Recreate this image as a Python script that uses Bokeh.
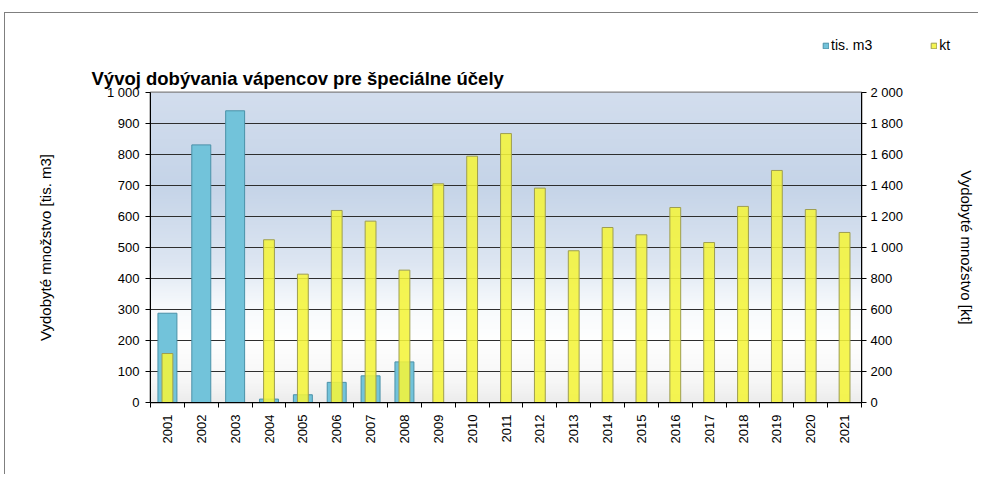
import numpy as np
from bokeh.plotting import figure
from bokeh.layouts import column
from bokeh.models import (Range1d, LinearAxis, FixedTicker, Legend, LegendItem,
                          ColumnDataSource, CustomJSTickFormatter, Styles)
from bokeh.embed import file_html
from bokeh.resources import INLINE

# ---- data ----
years = ["2001", "2002", "2003", "2004", "2005", "2006", "2007", "2008", "2009", "2010",
         "2011", "2012", "2013", "2014", "2015", "2016", "2017", "2018", "2019", "2020", "2021"]
tis_m3 = [288, 831, 941, 11, 25, 65, 86, 131, 0, 0,
          0, 0, 0, 0, 0, 0, 0, 0, 0, 0, 0]
kt = [316, 0, 0, 1050, 828, 1239, 1170, 854, 1411, 1589,
      1735, 1383, 979, 1129, 1082, 1258, 1032, 1265, 1497, 1245, 1097]
left_ticks = [0, 100, 200, 300, 400, 500, 600, 700, 800, 900, 1000]
right_ticks = [0, 200, 400, 600, 800, 1000, 1200, 1400, 1600, 1800, 2000]

title_text = "Vývoj dobývania vápencov pre špeciálne účely"
left_label = "Vydobyté množstvo [tis. m3]"
right_label = "Vydobyté množstvo [kt]"
series_names = ["tis. m3", "kt"]

FONT = "Liberation Sans"
BLUE, BLUE_EDGE = "#72c3da", "#4a91a8"
YELLOW, YELLOW_EDGE = "#f4f43a", "#9e9e50"
n = len(years)
idx = list(range(n))

p = figure(frame_width=711, frame_height=310,
           min_border_left=150, min_border_right=114, min_border_top=36, min_border_bottom=72,
           x_range=Range1d(-0.5, n - 0.5), y_range=Range1d(left_ticks[0], left_ticks[-1]),
           output_backend="svg", toolbar_location=None,
           background_fill_color="white", border_fill_color=None)
p.extra_y_ranges = {"kt": Range1d(right_ticks[0], right_ticks[-1])}
p.outline_line_color = "#808080"
p.outline_line_width = 2

# ---- background gradient of the plot area ----
H = 300
stops_y = [0, 60, 200, 320, 450, 700, 1000]
stops_c = [(236, 236, 236), (246, 246, 246), (255, 255, 255), (246, 249, 252),
           (221, 230, 242), (197, 212, 232), (211, 222, 238)]
ys = np.linspace(0, 1000, H)
img = np.empty((H, 1), dtype=np.uint32)
view = img.view(dtype=np.uint8).reshape((H, 1, 4))
for ch in range(3):
    view[:, 0, ch] = np.interp(ys, stops_y, [c[ch] for c in stops_c]).astype(np.uint8)
view[:, 0, 3] = 255
p.image_rgba(image=[img], x=-0.5, y=0, dw=n, dh=1000, level="image")

# ---- grid ----
p.xgrid.visible = False
p.ygrid.ticker = FixedTicker(ticks=left_ticks)
p.ygrid.grid_line_color = "#2e2e2e"
p.ygrid.grid_line_width = 1

# ---- bars ----
src_b = ColumnDataSource(dict(x=[i for i in idx if tis_m3[i] > 0],
                              top=[v for v in tis_m3 if v > 0]))
src_y = ColumnDataSource(dict(x=[i for i in idx if kt[i] > 0],
                              top=[v for v in kt if v > 0]))
p.vbar(x="x", top="top", bottom=0, width=0.56, source=src_b,
       fill_color=BLUE, line_color=BLUE_EDGE, line_width=1)
p.vbar(x="x", top="top", bottom=0, width=0.32, source=src_y, y_range_name="kt",
       fill_color=YELLOW, fill_alpha=0.88, line_color=YELLOW_EDGE, line_width=1)

# ---- axes ----
fmt = CustomJSTickFormatter(code=r"return Math.round(tick).toString().replace(/\B(?=(\d{3})+(?!\d))/g, ' ');")

def style_y(ax):
    ax.axis_line_color = "black"
    ax.major_tick_line_color = "black"
    ax.major_tick_in = 0
    ax.major_tick_out = 5
    ax.minor_tick_line_color = None
    ax.major_label_text_font = FONT
    ax.major_label_text_font_size = "13px"
    ax.major_label_text_color = "black"
    ax.axis_label_text_font = FONT
    ax.axis_label_text_font_size = "15px"
    ax.axis_label_text_font_style = "normal"
    ax.axis_label_text_color = "black"

ly = p.yaxis[0]
ly.ticker = FixedTicker(ticks=left_ticks)
ly.formatter = fmt
ly.axis_label = left_label
style_y(ly)
ly.major_label_standoff = 6
ly.axis_label_standoff = 50

ry = LinearAxis(y_range_name="kt", ticker=FixedTicker(ticks=right_ticks), formatter=fmt,
                axis_label=right_label)
style_y(ry)
ry.major_label_standoff = 4
ry.axis_label_standoff = 52
p.add_layout(ry, "right")

xa = p.xaxis[0]
xa.ticker = FixedTicker(ticks=idx, minor_ticks=[i - 0.5 for i in range(n + 1)])
xa.formatter = CustomJSTickFormatter(args=dict(labels=years),
                                     code="return labels[Math.round(tick)] || '';")
xa.major_label_orientation = np.pi / 2
xa.major_tick_line_color = None
xa.minor_tick_line_color = "black"
xa.minor_tick_in = 0
xa.minor_tick_out = 5
xa.axis_line_color = "black"
xa.major_label_text_font = FONT
xa.major_label_text_font_size = "13px"
xa.major_label_text_color = "black"
xa.major_label_standoff = 6

# ---- title ----
p.title.text = title_text
p.title.align = "left"
p.title.offset = -59
p.title.standoff = 8
p.title.text_font = FONT
p.title.text_font_size = "18.5px"
p.title.text_font_style = "bold"
p.title.text_color = "black"

# ---- legend strip (sits above the title, as in the reference) ----
lf = figure(frame_width=975, frame_height=56, min_border=0,
            x_range=Range1d(0, 1), y_range=Range1d(0, 1),
            x_axis_type=None, y_axis_type=None,
            output_backend="svg", toolbar_location=None,
            background_fill_color=None, border_fill_color=None)
lf.outline_line_color = None
lf.grid.visible = False
# swatch renderers: one bar each, placed outside the visible range (only the legend shows)
lb = lf.vbar(x=[5], top=[1], width=0.5, fill_color=BLUE, line_color=BLUE_EDGE, line_width=1)
lyl = lf.vbar(x=[5], top=[1], width=0.5, fill_color=YELLOW, fill_alpha=0.88,
              line_color=YELLOW_EDGE, line_width=1)
legend = Legend(items=[LegendItem(label=series_names[0], renderers=[lb]),
                       LegendItem(label=series_names[1], renderers=[lyl])],
                location=(822, 3), orientation="horizontal",
                glyph_width=7, glyph_height=7, label_standoff=2, spacing=58,
                padding=0, margin=0, border_line_color=None, background_fill_alpha=0,
                label_text_font=FONT, label_text_font_size="14px", label_text_color="black")
lf.add_layout(legend)

layout = column(lf, p, spacing=0)
# outer chart border: left and top edges (right/bottom lie outside the view in the reference)
layout.styles = Styles(background_color="white",
                       box_shadow="inset 4px 12px 0 0 white, inset 5px 13px 0 0 #7f7f7f")

open("out.html", "w").write(file_html(layout, INLINE))
